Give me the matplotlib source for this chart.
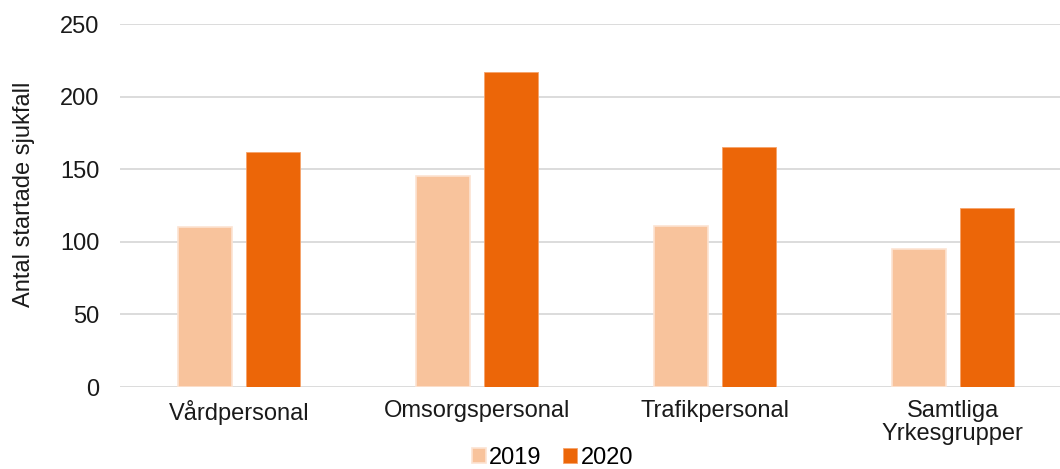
import matplotlib
matplotlib.use("Agg")
import matplotlib.pyplot as plt
import numpy as np

plt.rcParams['font.family'] = ['Liberation Sans', 'DejaVu Sans']

groups = ['Vårdpersonal', 'Omsorgspersonal', 'Trafikpersonal', 'Samtliga\nYrkesgrupper']
cases_2019 = [110, 145, 111, 95]
cases_2020 = [162, 217, 165, 123]

light = '#F8C39C'
dark = '#EC6608'

fig = plt.figure(figsize=(10.6, 4.69), dpi=100)
ax = fig.add_axes([120 / 1060, 82 / 469, 940 / 1060, 363 / 469])

x = np.arange(len(groups))
w = 0.227
ax.bar(x - 0.143, cases_2019, w, color=light, edgecolor='#FCE3D2', linewidth=1.2,
       label='2019', zorder=3)
ax.bar(x + 0.143, cases_2020, w, color=dark, edgecolor='#F5A36A', linewidth=0.6,
       label='2020', zorder=3)

ax.set_xlim(-0.5, 3.45)
ax.set_ylim(0, 250)
ax.set_yticks(range(0, 251, 50))
ax.set_xticks(x)
ax.set_xticklabels(groups, linespacing=1.1)
ax.grid(axis='y', color='#D9D9D9', linewidth=1.3, zorder=0)
for s in ax.spines.values():
    s.set_visible(False)
ax.tick_params(length=0, labelsize=17, colors='#1a1a1a')
ax.tick_params(axis='y', pad=15)
ax.tick_params(axis='x', pad=9)
ax.set_ylabel('Antal startade sjukfall', fontsize=17, color='#1a1a1a')
ax.yaxis.set_label_coords(-0.09, 0.53)

ax.legend(loc='upper center', bbox_to_anchor=(0.46, -0.138), ncol=2, frameon=False,
          fontsize=17, handlelength=0.6, handleheight=0.6, handletextpad=0.15,
          columnspacing=0.9, borderaxespad=0)

fig.savefig('out.png', dpi=100)
